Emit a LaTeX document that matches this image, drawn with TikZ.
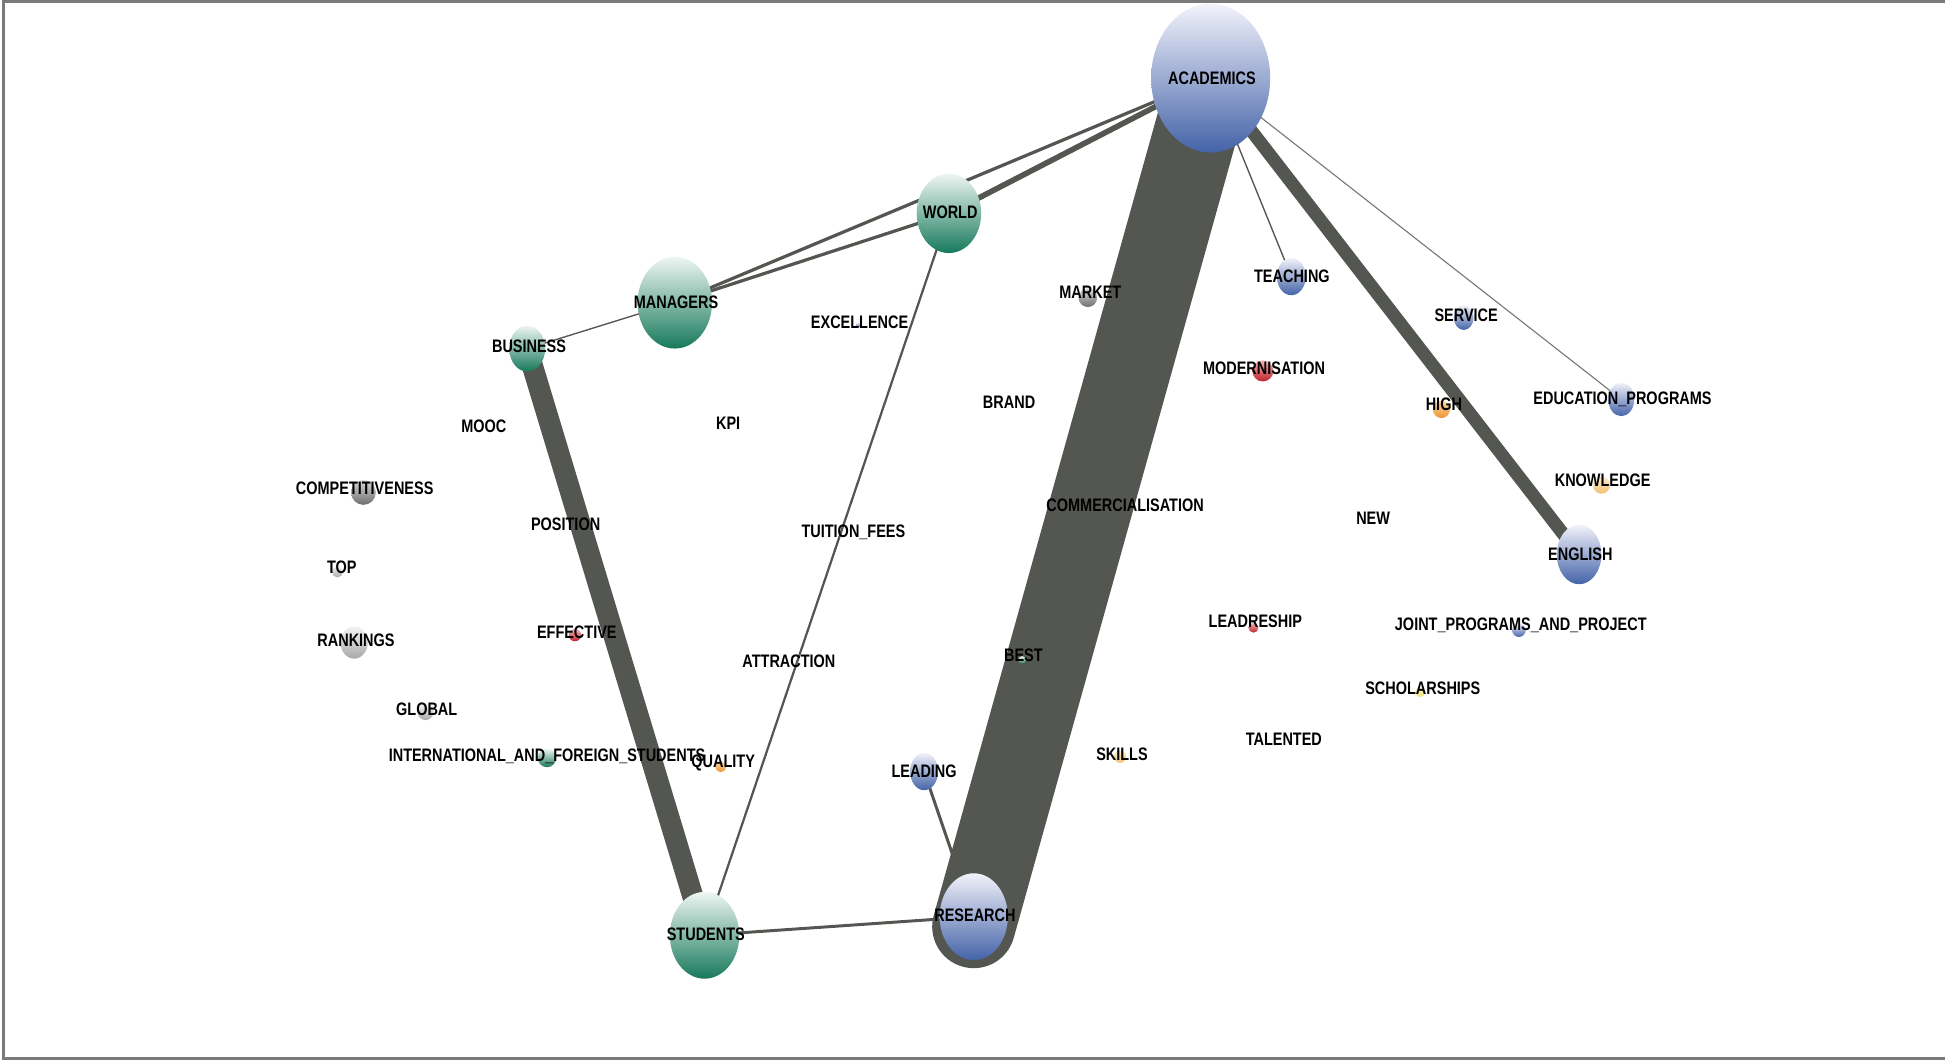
\documentclass[tikz,border=0pt]{standalone}
\usepackage{fontspec}
\newfontfamily\lblfont[FakeStretch=0.8]{Liberation Sans}
\usetikzlibrary{shapes.geometric,backgrounds}
\definecolor{edgegray}{HTML}{545652}
\definecolor{framegray}{HTML}{7A7A7A}
\definecolor{gtop}{HTML}{EEF6F2}
\definecolor{gbot}{HTML}{17795B}
\definecolor{btop}{HTML}{F2F2FB}
\definecolor{bbot}{HTML}{4463A8}
\definecolor{graytop}{HTML}{D8D8D8}
\definecolor{graybot}{HTML}{6E6E6E}
\definecolor{lgraytop}{HTML}{F4F4F4}
\definecolor{lgraybot}{HTML}{A8A8A8}
\definecolor{redtop}{HTML}{F3B7B7}
\definecolor{redbot}{HTML}{C0202A}
\definecolor{orgtop}{HTML}{FBD9A8}
\definecolor{orgbot}{HTML}{EE9530}
\definecolor{lorgtop}{HTML}{FDEFD6}
\definecolor{lorgbot}{HTML}{F2C070}
\definecolor{ylwtop}{HTML}{FBF7CC}
\definecolor{ylwbot}{HTML}{EEE070}
\tikzset{
  lbl/.style={font=\lblfont\bfseries\fontsize{8.3}{9}\selectfont, inner sep=0pt, text=black},
  blob/.style={ellipse, inner sep=0pt, draw=none},
  gblob/.style={blob, top color=gtop, bottom color=gbot},
  bblob/.style={blob, top color=btop, bottom color=bbot},
  grayblob/.style={blob, top color=graytop, bottom color=graybot},
  lgrayblob/.style={blob, top color=lgraytop, bottom color=lgraybot},
  redblob/.style={blob, top color=redtop, bottom color=redbot},
  orgblob/.style={blob, top color=orgtop, bottom color=orgbot},
  lorgblob/.style={blob, top color=lorgtop, bottom color=lorgbot},
  ylwblob/.style={blob, top color=ylwtop, bottom color=ylwbot},
  sz/.style 2 args={minimum width=#1*0.04cm, minimum height=#2*0.04cm},
  lnk/.style={draw=edgegray, line width=#1*0.02cm}
}
\begin{document}
\begin{tikzpicture}[x=0.02cm, y=-0.02cm]
\useasboundingbox (0,0) rectangle (1568,855);
% frame
\draw[framegray, line width=0.05cm] (1568,1.2) -- (3,1.2) -- (3,853.5) -- (1568,853.5);

% main nodes
\node[bblob, sz={48}{60}] (ACADEMICS) at (976,63) {};
\node[gblob, sz={26}{32}] (WORLD) at (765,172) {};
\node[gblob, sz={30}{37}] (MANAGERS) at (544,244) {};
\node[gblob, sz={14.5}{18.5}] (BUSINESS) at (425,281) {};
\node[gblob, sz={28}{35}] (STUDENTS) at (568,754) {};
\node[bblob, sz={27.5}{35}] (RESEARCH) at (785,739) {};
\coordinate (rcap) at (785,747);
\node[bblob, sz={11.7}{15}] (TEACHING) at (1041,223) {};
\node[bblob, sz={18}{24}] (ENGLISH) at (1273,447) {};
\node[bblob, sz={11.3}{15}] (LEADING) at (745,622) {};
\node[bblob, sz={8}{10}] (SERVICE) at (1180,256) {};
\node[bblob, sz={10.5}{13.5}] (EDUPROG) at (1307,322) {};

% small dots
\node[grayblob, sz={7.5}{7.5}] (MARKET) at (877,240) {};
\node[redblob, sz={8.5}{8.5}] (MODERN) at (1018,299) {};
\node[orgblob, sz={7}{7}] (HIGH) at (1162,330) {};
\node[lorgblob, sz={7}{7}] (KNOW) at (1291,391) {};
\node[grayblob, sz={10}{10}] (COMPET) at (293,397) {};
\node[lgrayblob, sz={4.5}{4.5}] (TOP) at (272,461) {};
\node[lgrayblob, sz={11}{13}] (RANK) at (285.5,518) {};
\node[lgrayblob, sz={6.5}{6.5}] (GLOBAL) at (343,574) {};
\node[redblob, sz={5}{5}] (EFFECT) at (463.5,512) {};
\node[gblob, sz={7.5}{7.5}] (INTL) at (441,611) {};
\node[orgblob, sz={4.5}{4.5}] (QUAL) at (581,618) {};
\node[lorgblob, sz={5}{5}] (SKILLS) at (903,610) {};
\node[redblob, sz={4}{4}] (LEADR) at (1010.5,506) {};
\node[bblob, sz={5.5}{5.5}] (JOINT) at (1224.5,508) {};
\node[ylwblob, sz={4}{4}] (SCHOL) at (1145,558) {};
\node[gblob, sz={3}{3}] (BEST) at (824,532) {};
\node[bblob, sz={2}{2}] (EXCEL) at (692,262) {};

% connectors
\begin{scope}[on background layer]
\draw[lnk=67, line cap=round] (ACADEMICS.center) -- (rcap);
\draw[lnk=10.5] (ACADEMICS.center) -- (ENGLISH.center);
\draw[lnk=17] (BUSINESS.center) -- (STUDENTS.center);
\draw[lnk=4.5] (WORLD.center) -- (ACADEMICS.center);
\draw[lnk=2.6] (MANAGERS.center) -- (ACADEMICS.center);
\draw[lnk=2.6] (MANAGERS.center) -- (WORLD.center);
\draw[lnk=1.8] (WORLD.center) -- (STUDENTS.center);
\draw[lnk=1.1] (BUSINESS.center) -- (MANAGERS.center);
\draw[lnk=2.4] (STUDENTS.center) -- (RESEARCH.center);
\draw[lnk=2.4] (LEADING.center) -- (RESEARCH.center);
\draw[lnk=1.1] (ACADEMICS.center) -- (TEACHING.center);
\draw[lnk=0.9, draw=edgegray!80] (ACADEMICS.center) -- (EDUPROG.center);
\end{scope}

% labels
\node[lbl] (l-acad) at (977,63) {ACADEMICS};
\node[lbl] (l-world) at (766,171) {WORLD};
\node[lbl] (l-man) at (545,243.5) {MANAGERS};
\node[lbl] (l-bus) at (426.5,279.5) {BUSINESS};
\node[lbl] (l-stud) at (569,753) {STUDENTS};
\node[lbl] (l-res) at (786,737.5) {RESEARCH};
\node[lbl] (l-teach) at (1041.5,222.5) {TEACHING};
\node[lbl] (l-eng) at (1274,447) {ENGLISH};
\node[lbl] (l-lead) at (745,621.5) {LEADING};
\node[lbl] (l-serv) at (1182,254) {SERVICE};
\node[lbl] (l-edu) at (1308,322) {EDUCATION\_PROGRAMS};
\node[lbl] (l-excel) at (693,260) {EXCELLENCE};
\node[lbl] (l-market) at (879,236) {MARKET};
\node[lbl] (l-modern) at (1019,297) {MODERNISATION};
\node[lbl] (l-high) at (1164,326) {HIGH};
\node[lbl] (l-brand) at (813.5,324) {BRAND};
\node[lbl] (l-mooc) at (390,343.5) {MOOC};
\node[lbl] (l-kpi) at (587,341) {KPI};
\node[lbl] (l-compet) at (294,393.5) {COMPETITIVENESS};
\node[lbl] (l-know) at (1292,387) {KNOWLEDGE};
\node[lbl] (l-comm) at (907,407) {COMMERCIALISATION};
\node[lbl] (l-new) at (1107,418) {NEW};
\node[lbl] (l-pos) at (456,422.6) {POSITION};
\node[lbl] (l-fees) at (688,429) {TUITION\_FEES};
\node[lbl] (l-top) at (275.5,457) {TOP};
\node[lbl] (l-leadr) at (1012,501) {LEADRESHIP};
\node[lbl] (l-joint) at (1226,504) {JOINT\_PROGRAMS\_AND\_PROJECT};
\node[lbl] (l-effect) at (465,510) {EFFECTIVE};
\node[lbl] (l-rank) at (287,516) {RANKINGS};
\node[lbl] (l-best) at (825,528) {BEST};
\node[lbl] (l-attr) at (636,533) {ATTRACTION};
\node[lbl] (l-schol) at (1147,555) {SCHOLARSHIPS};
\node[lbl] (l-global) at (344,572) {GLOBAL};
\node[lbl] (l-talent) at (1035,596) {TALENTED};
\node[lbl] (l-skills) at (904.5,608) {SKILLS};
\node[lbl] (l-intl) at (441,610) {INTERNATIONAL\_AND\_FOREIGN\_STUDENTS};
\node[lbl] (l-qual) at (583,615) {QUALITY};
\end{tikzpicture}
\end{document}
